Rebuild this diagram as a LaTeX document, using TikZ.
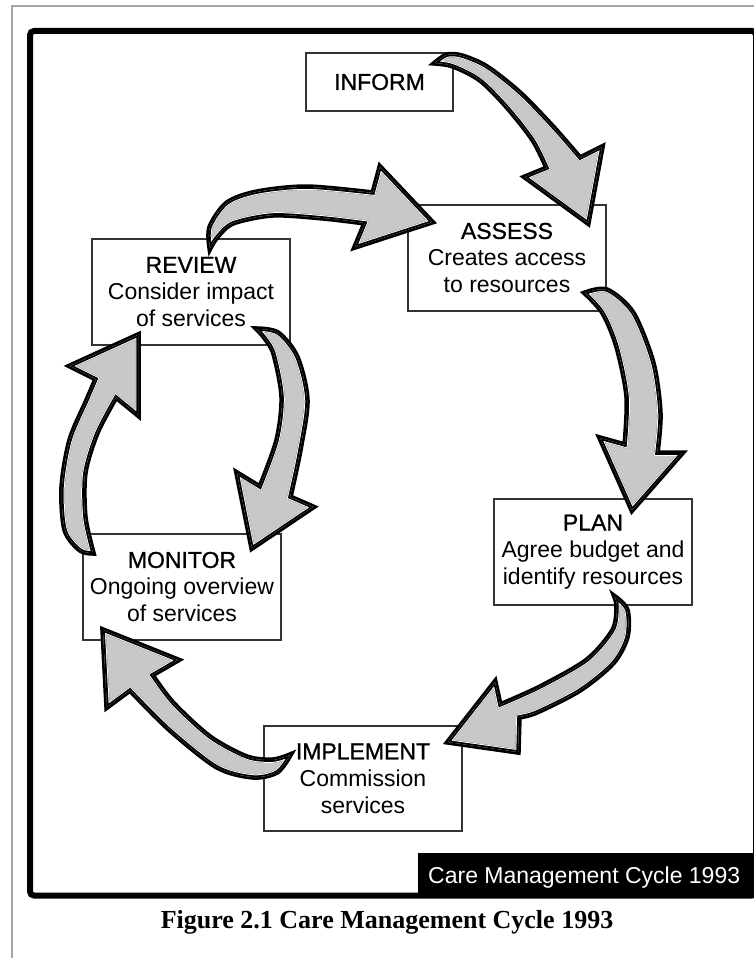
\documentclass[tikz,border=0pt]{standalone}
\usepackage{fontspec}
\setmainfont{Liberation Serif}
\newfontfamily\sansf{Liberation Sans}
\newfontfamily\titlef[FakeBold=1]{Liberation Sans}
\definecolor{arrgray}{RGB}{200,200,200}
\definecolor{framegray}{RGB}{165,165,165}
\newcommand\blockarr[1]{%
  \fill[arrgray] #1;
  \draw[black,line width=5.5pt,line join=miter,miter limit=4] #1;
  \begin{scope}
    \clip #1;
    \draw[white,line width=5.5pt,line join=miter,miter limit=4] #1;
    \draw[black,line width=3.5pt,line join=miter,miter limit=4] #1;
  \end{scope}}
\tikzset{
  stagebox/.style={draw=black!80,line width=1.2pt,fill=white,align=center,inner sep=0pt,
    font=\sansf\fontsize{23}{27}\selectfont,minimum width=198pt,minimum height=106pt},
}
\begin{document}
\begin{tikzpicture}[x=1pt,y=-1pt]
\useasboundingbox (0,0) rectangle (753,958);
\fill[white] (0,0) rectangle (753,958);
% outer grey frame
\draw[framegray,line width=1.5pt] (760,6) -- (12,6) -- (12,965);
% black frame
\draw[black,line width=6pt,rounded corners=4pt] (30,31) rectangle (756,895.5);
% stage boxes
\node[stagebox,minimum width=147pt,minimum height=58pt] (inform) at (379.5,82) {{\titlef INFORM}};
\node[stagebox] (assess) at (507,258) {{\titlef ASSESS}\\Creates access\\to resources};
\node[stagebox] (review) at (191,292) {{\titlef REVIEW}\\Consider impact\\of services};
\node[stagebox] (plan) at (593,552) {{\titlef PLAN}\\Agree budget and\\identify resources};
\node[stagebox] (monitor) at (182,587) {{\titlef MONITOR}\\Ongoing overview\\of services};
\node[stagebox,minimum height=105pt] (implement) at (363,778.5) {{\titlef IMPLEMENT}\\Commission\\services};
% block arrows
% INFORM -> ASSESS
\blockarr{plot[smooth] coordinates {(435,63) (447,55) (462,56) (487,67) (520,93) (553,127) (580,158)} -- (602,147) -- (588,223) -- (525,177) -- plot[smooth] coordinates {(547,168) (533,140) (507,107) (480,80) (453,66) (435,63)} -- cycle}
% ASSESS -> PLAN
\blockarr{plot[smooth] coordinates {(585,293) (607,290) (633,313) (653,363) (660,413) (657,453)} -- (682,453) -- (632,510) -- (600,438) -- plot[smooth] coordinates {(625,445) (627,397) (617,347) (603,313) (585,293)} -- cycle}
% PLAN -> IMPLEMENT
\blockarr{plot[smooth] coordinates {(615,597) (627,610) (627,637) (613,663) (580,690) (537,712) (519,717)} -- (518,752) -- (448,742) -- (495,682) -- plot[smooth] coordinates {(500,705) (540,687) (587,660) (613,630) (617,607) (615,597)} -- cycle}
% IMPLEMENT -> MONITOR
\blockarr{plot[smooth] coordinates {(290,755) (277,772) (253,777) (217,767) (170,730) (130,690)} -- (107,707) -- (103,630) -- (178,660) -- plot[smooth] coordinates {(152,675) (173,703) (210,737) (247,757) (273,760) (290,755)} -- cycle}
% MONITOR -> REVIEW
\blockarr{plot[smooth] coordinates {(93,553) (80,550) (65,530) (62,487) (70,440) (87,400) (96,379)} -- (70,366) -- (138,335) -- (138,415) -- plot[smooth] coordinates {(116,397) (97,433) (85,473) (85,517) (93,553)} -- cycle}
% REVIEW -> MONITOR
\blockarr{plot[smooth] coordinates {(257,329) (278,333) (297,357) (307,400) (300,450) (290,497)} -- (313,507) -- (252,548) -- (237,473) -- plot[smooth] coordinates {(260,487) (277,440) (282,397) (274,354) (265,338) (257,329)} -- cycle}
% REVIEW -> ASSESS
\blockarr{plot[smooth] coordinates {(210,248) (210,227) (227,203) (257,192) (307,187) (373,193)} -- (380,167) -- (432,222) -- (355,247) -- plot[smooth] coordinates {(365,223) (323,218) (273,215) (233,223) (217,237) (210,248)} -- cycle}
% label box
\fill[black] (418,853) rectangle (756,897);
\node[anchor=base west,inner sep=0pt,text=white,font=\sansf\fontsize{23}{27}\selectfont] (label) at (428,883) {Care Management Cycle 1993};
% caption
\node[anchor=base,inner sep=0pt,font=\bfseries\fontsize{26}{30}\selectfont] (caption) at (387,928) {Figure 2.1 Care Management Cycle 1993};
\end{tikzpicture}
\end{document}
